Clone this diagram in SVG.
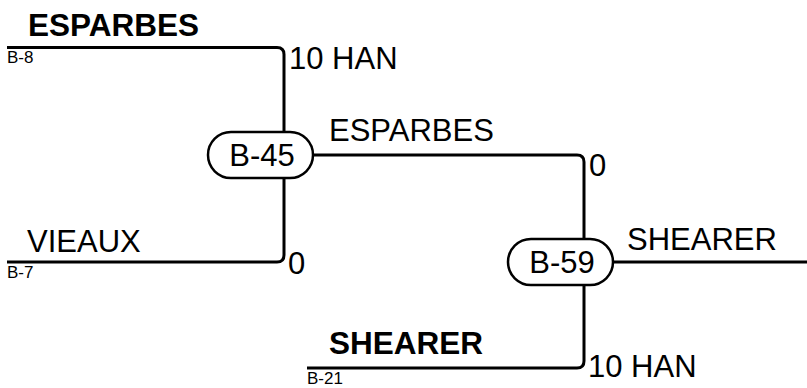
<svg xmlns="http://www.w3.org/2000/svg" width="807" height="388" viewBox="0 0 807 388">
<style>
.ln{fill:none;stroke:#000;stroke-width:3;stroke-linejoin:round}
.nd{fill:#fff;stroke:#000;stroke-width:2.5}
.t{font-family:"Liberation Sans",Arial,sans-serif;font-size:31px;fill:#000}
.b{font-family:"Liberation Sans",Arial,sans-serif;font-size:31.5px;font-weight:bold;fill:#000}
.s{font-family:"Liberation Sans",Arial,sans-serif;font-size:17px;fill:#000}
</style>
<rect width="807" height="388" fill="#fff"/>
<g id="connectors">
<path class="ln" d="M7,47.5 H277 Q284,47.5 284,54.5 V132"/>
<path class="ln" d="M7,262 H277 Q284,262 284,255 V178"/>
<path class="ln" d="M313,155 H577 Q584,155 584,162 V239"/>
<path class="ln" d="M307,368 H577 Q584,368 584,361 V285"/>
<path class="ln" d="M613,262 H807"/>
</g>
<g id="entry-b8">
<text class="b" x="28" y="36">ESPARBES</text>
<text class="s" x="7" y="63">B-8</text>
<text class="t" x="289" y="69">10 HAN</text>
</g>
<g id="entry-b7">
<text class="t" x="27" y="252">VIEAUX</text>
<text class="s" x="7" y="278">B-7</text>
<text class="t" x="288" y="274">0</text>
</g>
<g id="entry-b21">
<text class="b" x="329" y="354">SHEARER</text>
<text class="s" x="307" y="384">B-21</text>
<text class="t" x="588" y="377">10 HAN</text>
</g>
<g id="node-b45">
<rect class="nd" x="208" y="132" width="105" height="46" rx="23"/>
<text class="t" x="262" y="166" text-anchor="middle">B-45</text>
</g>
<g id="label-b45-out">
<text class="t" x="329" y="141">ESPARBES</text>
<text class="t" x="589" y="176">0</text>
</g>
<g id="node-b59">
<rect class="nd" x="508" y="239" width="105" height="46" rx="23"/>
<text class="t" x="562" y="273" text-anchor="middle">B-59</text>
</g>
<g id="label-b59-out">
<text class="t" x="627" y="250">SHEARER</text>
</g>
</svg>
